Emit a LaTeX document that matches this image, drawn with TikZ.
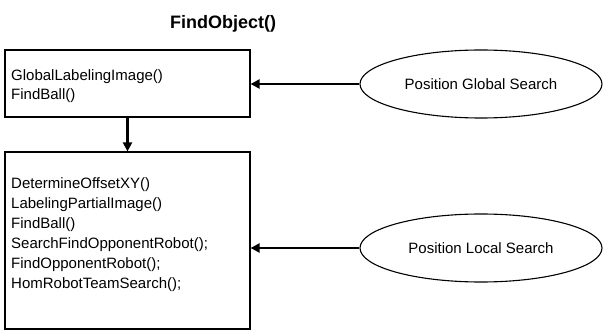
\documentclass[tikz,border=0pt]{standalone}
\usepackage{fontspec}
\setmainfont{Liberation Sans}
\usetikzlibrary{shapes.geometric,arrows.meta}
\begin{document}
\begin{tikzpicture}[x=1pt,y=-1pt,
  box/.style={draw,line width=1.2pt,minimum width=245pt,inner sep=0pt},
  oval/.style={draw,ellipse,line width=1.1pt,minimum width=242pt,minimum height=68pt,inner sep=0pt,font=\fontsize{15}{18}\selectfont},
  txt/.style={anchor=base west,inner sep=0pt,font=\fontsize{15}{18}\selectfont},
  con/.style={-{Triangle[length=9pt,width=9pt]}}
]
\useasboundingbox (0,0) rectangle (603,331);
\node[font=\fontsize{18}{21}\bfseries\selectfont] (title) at (223,24) {FindObject()};
\node[box,minimum height=67pt] (box1) at (127.5,83.5) {};
\node[box,minimum height=177pt] (box2) at (127.5,240.5) {};
\node[txt] (t1) at (11,81) {GlobalLabelingImage()};
\node[txt] (t2) at (11,100) {FindBall()};
\node[txt] (u1) at (11,189) {DetermineOffsetXY()};
\node[txt] (u2) at (11,209) {LabelingPartialImage()};
\node[txt] (u3) at (11,229) {FindBall()};
\node[txt] (u4) at (11,249) {SearchFindOpponentRobot();};
\node[txt] (u5) at (11,269) {FindOpponentRobot();};
\node[txt] (u6) at (11,289) {HomRobotTeamSearch();};
\node[oval] (e1) at (481,84) {Position Global Search};
\node[oval] (e2) at (481,248) {Position Local Search};
\draw[con,line width=2.8pt] (e1.west) -- (box1.east |- e1.west);
\draw[con,line width=2.2pt] (e2.west) -- (box2.east |- e2.west);
\draw[con,line width=2.2pt] (box1.south) -- (box2.north);
\end{tikzpicture}
\end{document}
